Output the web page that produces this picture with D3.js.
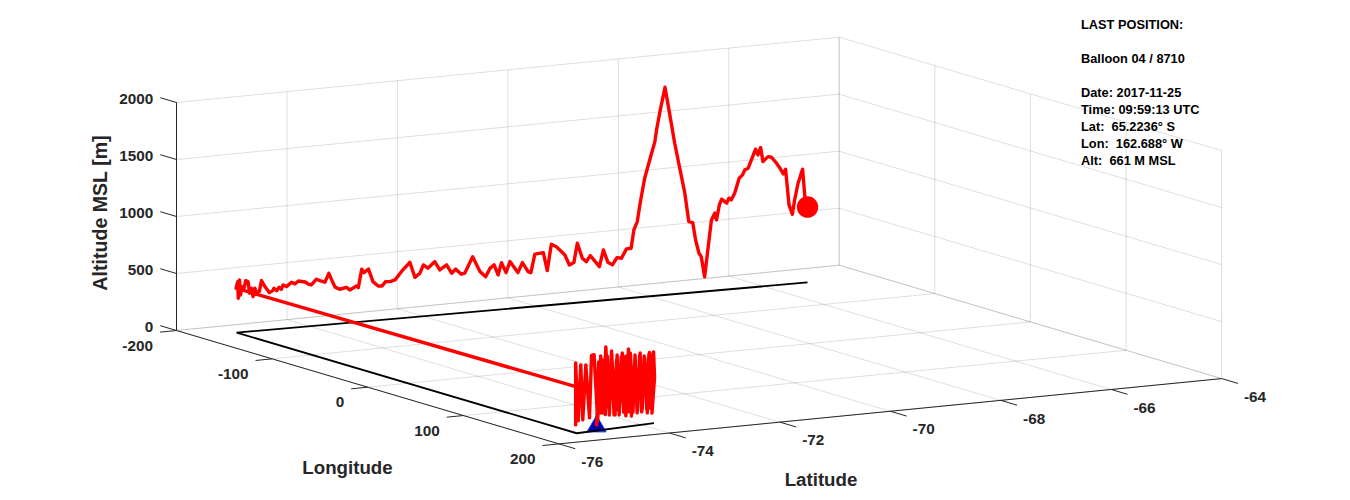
<!DOCTYPE html>
<html>
<head>
<meta charset="utf-8">
<script src="https://cdn.jsdelivr.net/npm/d3@7"></script>
<style>
	html, body { margin: 0; padding: 0; background: #fff; }
	svg { display: block; }
	text { font-family: "Liberation Sans", Arial, sans-serif; font-weight: bold; white-space: pre; }
</style>
</head>
<body>
<div id="chart"></div>
<script>

// Ticks

var lonTicks = [-200, -100, 0, 100, 200];
var latTicks = [-76, -74, -72, -70, -68, -66, -64];
var altTicks = [0, 500, 1000, 1500, 2000];

// Launch site

var launchLon = [174.6];
var launchLat = [-74.88];
var launchAlt = [37];

// Ground track corners

var groundLon = [170.0, 176.3, -178.7, -162.69];
var groundLat = [-73.76, -75.27, -75.28, -65.22];

// Flight, first part: up and down near the launch site

var circleLon = [174.7, 174.5, 174.3, 174.2, 173.9, 173.8, 173.6, 173.4, 173.2, 173.0, 172.8, 172.7, 172.4, 172.3, 172.1, 171.9, 171.7, 171.5, 171.3, 171.1, 170.9, 170.7, 170.5, 170.4, 170.2, 170.1,
	170.1, 170.0, 170.2, 170.4, 170.5, 170.7, 171.0, 171.1, 171.4, 171.5, 171.8, 172.1, 172.3, 172.6, 172.8, 173.0,
	173.2, 173.5, 173.6, 173.9, 174.2, 174.3, 174.6, 174.9, 175.1, 175.3, 175.5, 175.8, 176.0, 176.2, 176.4, 176.4, 176.3];
var circleLat = [-74.88, -74.84, -74.80, -74.76, -74.71, -74.67, -74.63, -74.58, -74.54, -74.49, -74.45, -74.40, -74.35, -74.31, -74.26, -74.22, -74.17, -74.13, -74.08, -74.04, -73.99, -73.95, -73.90, -73.86, -73.82, -73.78,
	-73.77, -73.75, -73.80, -73.85, -73.89, -73.94, -74.00, -74.03, -74.09, -74.13, -74.20, -74.26, -74.31, -74.38, -74.44, -74.48,
	-74.52, -74.59, -74.63, -74.70, -74.76, -74.80, -74.86, -74.93, -74.98, -75.02, -75.09, -75.15, -75.19, -75.24, -75.29, -75.29, -75.27];
var circleAlt = [37, 600, 150, 610, 130, 640, 150, 620, 120, 600, 150, 620, 130, 620, 130, 640, 120, 620, 130, 610, 130, 600, 130, 610, 130, 610,
	626, 403, 91, 626, 98, 583, 113, 632, 110, 604, 89, 680, 96, 653, 112, 640,
	117, 682, 123, 724, 148, 650, 84, 669, 666, 120, 589, 110, 595, 108, 617, 74, 406];

// Flight, second part: across the date line and north

var flightLon = [-178.7, -178.7, -178.7, -178.6, -178.6, -178.6, -178.5, -178.5, -178.4, -178.4, -178.3, -178.3, -178.2, -178.2, -178.1,
	-178.1, -178.0, -177.9, -177.8, -177.8, -177.7, -177.6, -177.6, -177.5, -177.4, -177.3, -177.2, -177.1, -177.0, -176.9,
	-176.8, -176.7, -176.6, -176.5, -176.4, -176.3, -176.2, -176.1, -175.9, -175.8, -175.7, -175.6, -175.5, -175.5, -175.4,
	-175.3, -175.1, -175.0, -174.9, -174.8, -174.7, -174.5, -174.3, -174.2, -174.1, -174.0, -173.9, -173.7, -173.6,
	-173.4, -173.3, -173.2, -173.0, -172.9, -172.7, -172.6, -172.4, -172.3, -172.2, -172.1, -172.0, -171.9, -171.8, -171.6,
	-171.5, -171.3, -171.3, -171.2, -171.0, -170.9, -170.7, -170.6, -170.4, -170.3, -170.2, -170.1, -170.0, -169.9, -169.8,
	-169.5, -169.4, -169.3, -169.2, -169.1, -169.0, -168.9, -168.7, -168.7, -168.6,
	-168.5, -168.4, -168.3, -168.1, -168.1, -168.0, -167.9, -167.8, -167.6, -167.5, -167.4, -167.3, -167.2, -167.1, -167.0,
	-167.0, -166.9, -166.7, -166.6, -166.6, -166.5, -166.4, -166.3, -166.3, -166.2, -166.1, -166.0, -165.9, -165.9, -165.8,
	-165.6, -165.5, -165.5, -165.4, -165.3, -165.2, -165.1, -165.0, -164.9, -164.8, -164.7, -164.7, -164.6, -164.5, -164.4, -164.3, -162.69];
var flightLat = [-75.29, -75.26, -75.25, -75.23, -75.21, -75.19, -75.15, -75.12, -75.08, -75.05, -75.02, -74.99, -74.96, -74.92, -74.88,
	-74.84, -74.78, -74.70, -74.64, -74.62, -74.57, -74.53, -74.49, -74.46, -74.40, -74.31, -74.25, -74.19, -74.07, -74.02,
	-73.96, -73.87, -73.81, -73.72, -73.65, -73.60, -73.54, -73.46, -73.34, -73.28, -73.16, -73.13, -73.07, -73.03, -72.95,
	-72.87, -72.78, -72.71, -72.65, -72.57, -72.48, -72.37, -72.22, -72.13, -72.04, -71.98, -71.90, -71.78, -71.69,
	-71.57, -71.48, -71.41, -71.31, -71.25, -71.11, -70.98, -70.88, -70.80, -70.73, -70.66, -70.60, -70.52, -70.45, -70.31,
	-70.23, -70.13, -70.08, -70.01, -69.86, -69.79, -69.72, -69.63, -69.48, -69.40, -69.32, -69.26, -69.17, -69.10, -69.03,
	-68.87, -68.80, -68.72, -68.64, -68.56, -68.48, -68.39, -68.31, -68.26, -68.20,
	-68.15, -68.07, -67.98, -67.89, -67.86, -67.80, -67.71, -67.63, -67.54, -67.45, -67.36, -67.29, -67.22, -67.17, -67.11,
	-67.07, -67.01, -66.89, -66.83, -66.80, -66.75, -66.71, -66.62, -66.58, -66.54, -66.48, -66.40, -66.34, -66.30, -66.24,
	-66.11, -66.07, -66.02, -65.98, -65.89, -65.83, -65.74, -65.69, -65.62, -65.58, -65.52, -65.46, -65.42, -65.36, -65.28, -65.24, -65.22];
var flightAlt = [390, 446, 300, 460, 327, 399, 383, 449, 439, 335, 378, 303, 375, 330, 342,
	437, 382, 325, 340, 360, 337, 365, 345, 382, 365, 399, 382, 405, 391, 371,
	360, 406, 391, 373, 448, 388, 322, 300, 312, 286, 316, 300, 459, 427, 454,
	341, 299, 296, 331, 328, 339, 406, 482, 346, 378, 448, 416, 468, 391,
	430, 353, 386, 337, 343, 482, 346, 296, 368, 393, 302, 407, 316, 410, 307,
	391, 308, 296, 455, 462, 302, 530, 504, 425, 334, 351, 518, 382, 350, 399,
	296, 439, 327, 301, 361, 352, 430, 432, 591, 661,
	820, 1036, 1192, 1349, 1450, 1608, 1818, 1587, 1319, 1096, 873, 621, 609, 454, 335,
	304, 125, 618, 675, 614, 744, 792, 753, 795, 778, 834, 962, 989, 1031, 1043,
	1204, 1152, 1214, 1089, 1129, 1121, 1065, 1027, 966, 1004, 689, 604, 728, 872, 992, 749, 661];

// Last position box

var infoLines = ["LAST POSITION:", "", "Balloon 04 / 8710", "", "Date: 2017-11-25", "Time: 09:59:13 UTC",
	"Lat:  65.2236° S", "Lon:  162.688° W", "Alt:  661 M MSL"];

// Scales: the axes are oblique, so each value gets an x and a y part

var width = 1350, height = 500;
var originX = 176.5, originY = 330.5;

var lonX = d3.scaleLinear().domain([-200, 200]).range([0, 382.5]);
var lonY = d3.scaleLinear().domain([-200, 200]).range([0, 113.4]);
var latX = d3.scaleLinear().domain([-76, -64]).range([0, 662.7]);
var latY = d3.scaleLinear().domain([-76, -64]).range([0, -65.3]);
var altY = d3.scaleLinear().domain([0, 2000]).range([0, -228]);

function px(lon, lat) {
	return originX + lonX(lon) + latX(lat);
}

function py(lon, lat, alt) {
	return originY + lonY(lon) + latY(lat) + altY(alt);
}

var path3d = d3.line()
	.x(function(d) { return px(d[0], d[1]); })
	.y(function(d) { return py(d[0], d[1], d[2]); });

var svg = d3.select("#chart").append("svg")
	.attr("width", width)
	.attr("height", height);

function seg(group, a, b, color, opacity, w) {
	group.append("path")
		.attr("d", path3d([a, b]))
		.attr("fill", "none")
		.attr("stroke", color)
		.attr("stroke-opacity", opacity)
		.attr("stroke-width", w);
}

// Grid

var grid = svg.append("g");
var gridColor = "#262626", gridOpacity = 0.15;

lonTicks.forEach(function(lon) {
	seg(grid, [lon, -76, 0], [lon, -64, 0], gridColor, gridOpacity, 1);
	seg(grid, [lon, -64, 0], [lon, -64, 2000], gridColor, gridOpacity, 1);
});

latTicks.forEach(function(lat) {
	seg(grid, [-200, lat, 0], [200, lat, 0], gridColor, gridOpacity, 1);
	seg(grid, [-200, lat, 0], [-200, lat, 2000], gridColor, gridOpacity, 1);
});

altTicks.forEach(function(alt) {
	seg(grid, [-200, -76, alt], [-200, -64, alt], gridColor, gridOpacity, 1);
	seg(grid, [-200, -64, alt], [200, -64, alt], gridColor, gridOpacity, 1);
});

// Axes and ticks

var axes = svg.append("g");
var axisColor = "#262626";

seg(axes, [-200, -76, 0], [-200, -76, 2000], axisColor, 1, 1);
seg(axes, [-200, -76, 0], [200, -76, 0], axisColor, 1, 1);
seg(axes, [200, -76, 0], [200, -64, 0], axisColor, 1, 1);

altTicks.forEach(function(alt) {
	seg(axes, [-200, -76, alt], [-217, -76, alt], axisColor, 1, 1);
	axes.append("text")
		.attr("x", px(-217, -76) - 7)
		.attr("y", py(-217, -76, alt) + 6.4)
		.attr("text-anchor", "end")
		.attr("font-size", 15.3)
		.attr("fill", axisColor)
		.text(alt);
});

lonTicks.forEach(function(lon) {
	seg(axes, [lon, -76, 0], [lon, -76.3, 0], axisColor, 1, 1);
	axes.append("text")
		.attr("x", px(lon, -76.3) - 7)
		.attr("y", py(lon, -76.3, 0) + 18.4)
		.attr("text-anchor", "end")
		.attr("font-size", 15.3)
		.attr("fill", axisColor)
		.text(lon);
});

latTicks.forEach(function(lat) {
	seg(axes, [200, lat, 0], [217, lat, 0], axisColor, 1, 1);
	axes.append("text")
		.attr("x", px(217, lat) + 6)
		.attr("y", py(217, lat, 0) + 18.4)
		.attr("text-anchor", "start")
		.attr("font-size", 15.3)
		.attr("fill", axisColor)
		.text(lat);
});

// Axis labels

function axisLabel(x, y, rotate, size, label) {
	svg.append("text")
		.attr("transform", "translate(" + x + "," + y + ") rotate(" + rotate + ")")
		.attr("text-anchor", "middle")
		.attr("font-size", size)
		.attr("fill", axisColor)
		.text(label);
}

axisLabel(347.5, 473.5, 0, 18.7, "Longitude");
axisLabel(821, 486, 0, 18.7, "Latitude");
axisLabel(107, 213, -90, 19.6, "Altitude MSL [m]");

// Launch marker

svg.append("path")
	.attr("d", d3.symbol().type(d3.symbolTriangle).size(156)())
	.attr("transform", "translate(" + px(launchLon[0], launchLat[0]) + "," + py(launchLon[0], launchLat[0], launchAlt[0]) + ")")
	.attr("fill", "#0000b0")
	.attr("stroke", "#0a3cff")
	.attr("stroke-width", 1);

// Ground track

svg.append("path")
	.attr("d", path3d(groundLon.map(function(d, i) { return [d, groundLat[i], 0]; })))
	.attr("fill", "none")
	.attr("stroke", "#000")
	.attr("stroke-width", 1.8);

// Flight path

var flightLine = circleLon.map(function(d, i) { return [d, circleLat[i], circleAlt[i]]; })
	.concat(flightLon.map(function(d, i) { return [d, flightLat[i], flightAlt[i]]; }));

svg.append("path")
	.attr("d", path3d(flightLine))
	.attr("fill", "none")
	.attr("stroke", "#f00")
	.attr("stroke-width", 3.4)
	.attr("stroke-linejoin", "round");

// Last position

var last = flightLine[flightLine.length - 1];

svg.append("circle")
	.attr("cx", px(last[0], last[1]))
	.attr("cy", py(last[0], last[1], last[2]))
	.attr("r", 10.7)
	.attr("fill", "#f00");

svg.append("g").selectAll("text")
	.data(infoLines)
	.join("text")
	.attr("x", 1081)
	.attr("y", function(d, i) { return 29 + i * 17; })
	.attr("font-size", 12.8)
	.attr("fill", "#000")
	.text(function(d) { return d; });

</script>
</body>
</html>
